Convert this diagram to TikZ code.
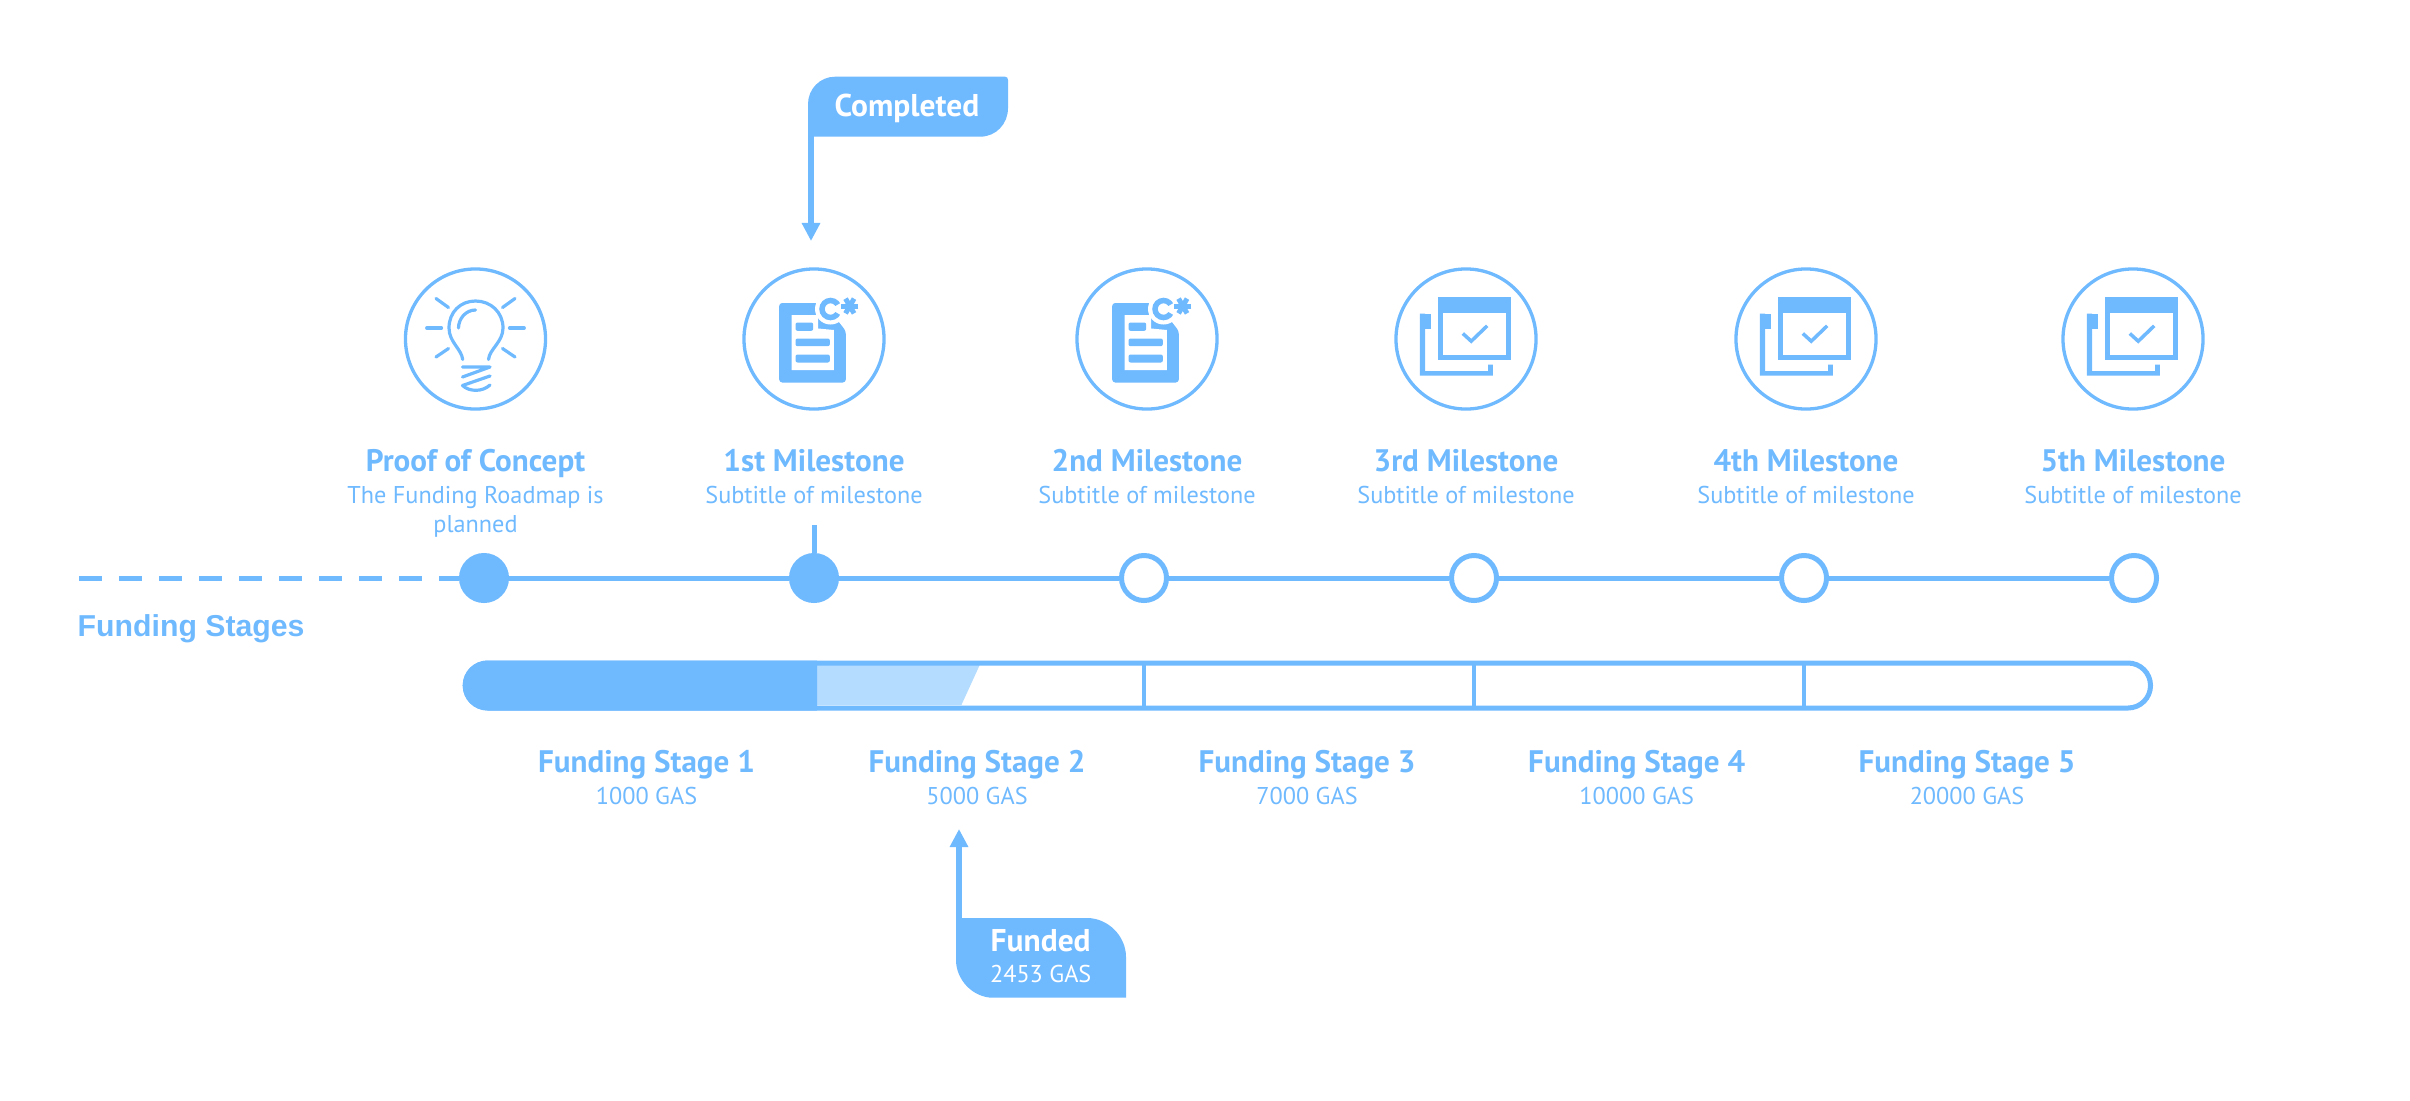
\documentclass[tikz,border=0pt]{standalone}
\usepackage{fontspec}
\setmainfont{PT Sans}
\newfontfamily\stagesfont{Liberation Sans}
\usetikzlibrary{arrows.meta,calc}
\definecolor{roadblue}{HTML}{6FB9FF}
\definecolor{roadlight}{HTML}{B3DCFF}
\tikzset{
	heading/.style={anchor=base, text=roadblue, font=\fontsize{8.85}{10}\selectfont\bfseries},
	subheading/.style={anchor=base, text=roadblue, font=\fontsize{6.9}{9}\selectfont},
	calloutlabel/.style={anchor=base, text=white, font=\fontsize{8.95}{10}\selectfont\bfseries},
	calloutsub/.style={anchor=base, text=white, font=\fontsize{6.9}{9}\selectfont},
	iconring/.style={circle, draw=roadblue, line width=0.033cm, minimum size=1.4cm, inner sep=0pt},
	donedot/.style={circle, draw=roadblue, fill=roadblue, line width=0.05cm, minimum size=0.45cm, inner sep=0pt},
	opendot/.style={circle, draw=roadblue, fill=white, line width=0.05cm, minimum size=0.45cm, inner sep=0pt},
	track/.style={draw=roadblue, line width=0.05cm},
	pointer/.style={draw=roadblue, line width=0.06cm, -{Triangle[length=0.18cm,width=0.175cm]}},
	bulbline/.style={draw=roadblue, line width=0.032cm, line cap=round, line join=round},
	pics/bulbicon/.style={code={
		\foreach \s in {-1,1} {
			\draw[bulbline] (\s*39.5,-40.5)--(\s*27,-31.5);
			\draw[bulbline] (\s*48.8,-11)--(\s*34,-11);
			\draw[bulbline] (\s*39.5,18)--(\s*27,9.5);
		}
		\draw[bulbline] (-12.8,20.5) .. controls (-14,10) and (-26.5,3) .. (-26.5,-11) .. controls (-26.5,-27) and (-15,-38) .. (0,-38) .. controls (15,-38) and (27.5,-27) .. (27.5,-11) .. controls (27.5,3) and (14,10) .. (13,20.5);
		\draw[bulbline] (-17,-11) .. controls (-17,-20) and (-10,-29) .. (0,-29);
		\draw[bulbline] (-13,28)--(14.5,28)--(-13,38);
		\draw[bulbline] (14.5,37)--(-13,46.5) .. controls (-6,53) and (7,53) .. (14.5,46);
	}},
	pics/docicon/.style={code={
		\fill[roadblue, rounded corners=0.03cm] (-34.8,-36)--(10,-36)--(31.8,-8)--(31.8,43.5)--(-34.8,43.5)--cycle;
		\fill[white] (-22.5,-23.8)--(4.2,-23.8)--(4.2,-10.5)--(19.8,-9)--(19.8,31.2)--(-22.5,31.2)--cycle;
		\fill[white] (16.5,-30) circle[radius=15.5];
		\fill[roadblue, rounded corners=0.02cm] (-18.5,-16.5) rectangle (-0.8,-8.2);
		\fill[roadblue, rounded corners=0.02cm] (-18.5,-0.5) rectangle (15.8,7.2);
		\fill[roadblue, rounded corners=0.02cm] (-18.5,15.5) rectangle (15.8,23.5);
		\draw[roadblue, line width=0.055cm] (16.5,-30) circle[radius=8.5];
		\fill[white] (16.5,-30)--(30,-38)--(30,-22)--cycle;
		\foreach \a in {0,60,120}
			\draw[roadblue, line width=0.05cm] ($(35.8,-33)+(\a:8.5)$)--($(35.8,-33)+(\a+180:8.5)$);
	}},
	pics/windowicon/.style={code={
		\fill[roadblue] (-28.2,-41.8) rectangle (44.8,20.5);
		\fill[white] (-23.5,-26.2) rectangle (40.2,16.2);
		\fill[roadblue] (-46.2,-25.5) rectangle (-35.5,-10.5);
		\fill[roadblue] (-46.2,-25.5)--(-40.8,-25.5)--(-40.8,32.2)--(22.2,32.2)--(22.2,25.5)--(26.8,25.5)--(26.8,36.5)--(-46.2,36.5)--cycle;
		\draw[roadblue, line width=0.035cm] (-3.2,-5.5)--(5.2,2.2)--(21.2,-13.2);
	}},
}
\begin{document}
\begin{tikzpicture}[x=0.01cm, y=-0.01cm]
	\useasboundingbox (0,0) rectangle (2410,1100);
	% icons
	\node[iconring] (ring0) at (475.5,339) {};
	\node[iconring] (ring1) at (814,339) {};
	\node[iconring] (ring2) at (1147,339) {};
	\node[iconring] (ring3) at (1466,339) {};
	\node[iconring] (ring4) at (1806,339) {};
	\node[iconring] (ring5) at (2133,339) {};
	\pic at (ring0) {bulbicon};
	\pic at (ring1) {docicon};
	\pic at (ring2) {docicon};
	\pic at (ring3) {windowicon};
	\pic at (ring4) {windowicon};
	\pic at (ring5) {windowicon};
	% milestone labels
	\node[heading] (title0) at (475.5,471.5) {Proof of Concept};
	\node[heading] (title1) at (814,471.5) {1st Milestone};
	\node[heading] (title2) at (1147,471.5) {2nd Milestone};
	\node[heading] (title3) at (1466,471.5) {3rd Milestone};
	\node[heading] (title4) at (1806,471.5) {4th Milestone};
	\node[heading] (title5) at (2133,471.5) {5th Milestone};
	\node[subheading] (sub0) at (475.5,503) {The Funding Roadmap is};
	\node[subheading] (sub0b) at (475.5,532.5) {planned};
	\foreach \x [count=\i] in {814,1147,1466,1806,2133}
		\node[subheading] (sub\i) at (\x,503) {Subtitle of milestone};
	% timeline
	\coordinate (dashstart) at (79,578);
	\coordinate (tick1) at (814,525);
	\node[donedot] (m0) at (484,578) {};
	\node[donedot] (m1) at (814,578) {};
	\node[opendot] (m2) at (1144,578) {};
	\node[opendot] (m3) at (1474,578) {};
	\node[opendot] (m4) at (1804,578) {};
	\node[opendot] (m5) at (2134,578) {};
	\draw[track, dash pattern=on 0.23cm off 0.17cm] (dashstart)--(m0);
	\draw[track] (m0)--(m1);
	\draw[track] (m1)--(m2);
	\draw[track] (m2)--(m3);
	\draw[track] (m3)--(m4);
	\draw[track] (m4)--(m5);
	\draw[track] (tick1)--(m1);
	\node[anchor=base west, inner sep=0pt, text=roadblue, font=\stagesfont\fontsize{8.6}{10}\selectfont\bfseries] (stages) at (77,636.5) {Funding Stages};
	% funding bar
	\fill[roadlight] (817,665)--(979.7,665)--(961.4,705)--(817,705)--cycle;
	\draw[track, rounded corners=0.225cm] (465.2,663) rectangle (2150.5,708);
	\fill[roadblue] (817,660.5)--(487.7,660.5) .. controls (473.9,660.5) and (462.7,671.7) .. (462.7,685.5) .. controls (462.7,699.3) and (473.9,710.5) .. (487.7,710.5)--(817,710.5)--cycle;
	\foreach \x in {1144,1474,1804}
		\draw[roadblue, line width=0.045cm] (\x,663)--(\x,708);
	% stage labels
	\node[heading] (stage1) at (646.5,772) {Funding Stage 1};
	\node[heading] (stage2) at (977,772) {Funding Stage 2};
	\node[heading] (stage3) at (1307,772) {Funding Stage 3};
	\node[heading] (stage4) at (1636.7,772) {Funding Stage 4};
	\node[heading] (stage5) at (1967,772) {Funding Stage 5};
	\node[subheading] (gas1) at (646.5,804) {1000 GAS};
	\node[subheading] (gas2) at (977,804) {5000 GAS};
	\node[subheading] (gas3) at (1307,804) {7000 GAS};
	\node[subheading] (gas4) at (1636.7,804) {10000 GAS};
	\node[subheading] (gas5) at (1967,804) {20000 GAS};
	% callouts
	\fill[roadblue] (808,136.7)--(808,104) .. controls (808,89) and (820,76.7) .. (835,76.7)--(1005,76.7) .. controls (1007,76.7) and (1008,78) .. (1008,80)--(1008,108) .. controls (1008,124) and (996,136.7) .. (980,136.7)--cycle;
	\node[calloutlabel] (done) at (907,116) {Completed};
	\coordinate (doneroot) at (811,136);
	\coordinate (donetip) at (811,241);
	\draw[pointer] (doneroot)--(donetip);
	\fill[roadblue] (956,918)--(1087,918) .. controls (1108,918) and (1126,936) .. (1126,957)--(1126,997.7)--(993,997.7) .. controls (973,997.7) and (956,980) .. (956,960)--cycle;
	\node[calloutlabel] (funded) at (1040.7,951.5) {Funded};
	\node[calloutsub] (fundedgas) at (1040.7,982) {2453 GAS};
	\coordinate (fundroot) at (959,919);
	\coordinate (fundtip) at (959,829);
	\draw[pointer] (fundroot)--(fundtip);
\end{tikzpicture}
\end{document}
